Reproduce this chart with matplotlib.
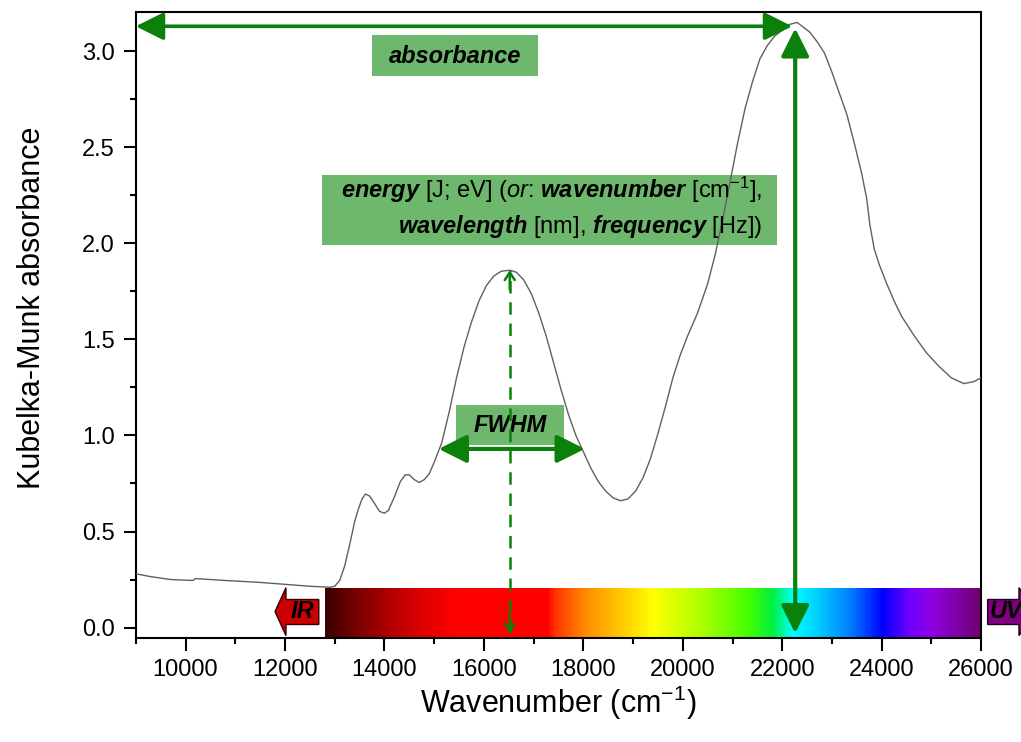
import numpy as np
import matplotlib.pyplot as plt
from matplotlib.colors import LinearSegmentedColormap
from matplotlib.patches import Rectangle, Polygon
from matplotlib.ticker import MultipleLocator

plt.rcParams['font.family'] = 'Liberation Sans'
plt.rcParams['mathtext.fontset'] = 'custom'
plt.rcParams['mathtext.rm'] = 'Liberation Sans'
plt.rcParams['mathtext.it'] = 'Liberation Sans:italic'
plt.rcParams['mathtext.bf'] = 'Liberation Sans:bold'
plt.rcParams['mathtext.bfit'] = 'Liberation Sans:italic:bold'

# Kubelka-Munk spectrum
wavenumber = [9000, 9300, 9700, 10150, 10200, 10800, 11500, 12000, 12500, 12900,
              13000, 13100, 13200, 13300, 13400, 13480, 13550, 13620, 13700, 13780,
              13900, 14000, 14080, 14200, 14320, 14420, 14500, 14600, 14700, 14800,
              14900, 15000, 15150, 15300, 15450, 15600, 15750, 15900, 16050, 16200,
              16350, 16520, 16650, 16800, 16950, 17100, 17250, 17400, 17550, 17700,
              17850, 18000, 18150, 18300, 18450, 18600, 18750, 18900, 19050, 19200,
              19350, 19500, 19650, 19800, 19950, 20100, 20300, 20500, 20650, 20800,
              20950, 21100, 21250, 21400, 21550, 21700, 21850, 22000, 22150, 22300,
              22400, 22550, 22700, 22850, 23000, 23150, 23300, 23450, 23600, 23700,
              23760, 23850, 23950, 24100, 24250, 24400, 24650, 24900, 25150, 25400,
              25650, 25850, 26000]
km_absorbance = [0.28, 0.265, 0.25, 0.245, 0.255, 0.245, 0.235, 0.225, 0.215, 0.21,
                 0.215, 0.245, 0.32, 0.43, 0.55, 0.62, 0.67, 0.695, 0.685, 0.655,
                 0.605, 0.595, 0.61, 0.68, 0.76, 0.795, 0.795, 0.77, 0.755, 0.77,
                 0.80, 0.86, 0.96, 1.12, 1.30, 1.46, 1.59, 1.70, 1.78, 1.83,
                 1.855, 1.86, 1.85, 1.81, 1.74, 1.64, 1.52, 1.38, 1.24, 1.11,
                 1.00, 0.915, 0.83, 0.76, 0.71, 0.675, 0.66, 0.67, 0.71, 0.78,
                 0.88, 1.01, 1.15, 1.30, 1.42, 1.52, 1.64, 1.79, 1.94, 2.12,
                 2.32, 2.52, 2.70, 2.84, 2.96, 3.03, 3.08, 3.11, 3.14, 3.15,
                 3.13, 3.10, 3.05, 2.99, 2.89, 2.78, 2.67, 2.52, 2.36, 2.23,
                 2.10, 1.97, 1.89, 1.79, 1.70, 1.62, 1.52, 1.43, 1.36, 1.30,
                 1.27, 1.28, 1.30]

# band used for the FWHM / energy annotations
band_peak = (16520, 1.86)
band_fwhm = (15090, 18030)
max_peak = (22260, 3.13)

# visible spectrum strip
spectrum_wn = [12800, 13400, 14050, 14700, 15380, 17270, 17400, 18070, 18740, 19400,
               20340, 21350, 21810, 22220, 22700, 23360, 24030, 24570, 25030, 26000]
spectrum_col = ['#3c0000', '#780000', '#b00000', '#dc0000', '#ff0000', '#ff0000',
                '#ff3000', '#ff9000', '#ffc800', '#ffff00', '#b0ff00', '#40ff00',
                '#00f040', '#00ffff', '#00d0ff', '#0080ff', '#0000ff', '#7000ff',
                '#9000e0', '#700070']

green = '#0b800b'
box_green = '#6db86d'

fig = plt.figure(figsize=(10.21, 7.42), dpi=100)
ax = fig.add_axes([0.133, 0.140, 0.828, 0.844])

ax.plot(wavenumber, km_absorbance, color='#606060', lw=1.0, zorder=3)

# rainbow strip
lo, hi = spectrum_wn[0], spectrum_wn[-1]
stops = [((w - lo) / (hi - lo), c) for w, c in zip(spectrum_wn, spectrum_col)]
cmap = LinearSegmentedColormap.from_list('vis', stops)
ax.imshow(np.linspace(0, 1, 600)[None, :], cmap=cmap, aspect='auto',
          extent=[lo, hi, -0.055, 0.205], zorder=1, interpolation='bilinear')

# IR / UV arrows
ir = Polygon([(11800, 0.083), (12020, 0.208), (12020, 0.146), (12680, 0.146),
              (12680, 0.016), (12020, 0.016), (12020, -0.042)],
             closed=True, fc='#cc0000', ec='#300000', lw=1.0, zorder=4)
ax.add_patch(ir)
ax.text(12350, 0.081, 'IR', fontsize=17, fontweight='bold', style='italic',
        ha='center', va='center', zorder=5)
uv = Polygon([(26130, 0.016), (26130, 0.146), (26760, 0.146), (26760, 0.208),
              (27100, 0.083), (26760, -0.042), (26760, 0.016)],
             closed=True, fc='#800080', ec='#200020', lw=1.0, zorder=4, clip_on=False)
ax.add_patch(uv)
ax.text(26170, 0.081, 'UV', fontsize=17, fontweight='bold', style='italic',
        ha='left', va='center', zorder=5, clip_on=False)

# green label boxes
ax.add_patch(Rectangle((13750, 2.87), 3330, 0.213, fc=box_green, ec='none', zorder=2))
ax.text(15420, 2.975, 'absorbance', fontsize=17, fontweight='bold', style='italic',
        ha='center', va='center', zorder=6)

ax.add_patch(Rectangle((12740, 1.99), 9160, 0.364, fc=box_green, ec='none', zorder=2))
ax.text(21600, 2.276,
        r'$\mathbfit{energy}$ [J; eV] ($\mathit{or}$: $\mathbfit{wavenumber}$ [cm$^{\mathrm{-1}}$],',
        fontsize=17, ha='right', va='center', zorder=6)
ax.text(21600, 2.089,
        r'$\mathbfit{wavelength}$ [nm], $\mathbfit{frequency}$ [Hz])',
        fontsize=17, ha='right', va='center', zorder=6)

ax.add_patch(Rectangle((15440, 0.948), 2170, 0.213, fc=box_green, ec='none', zorder=2))
ax.text(16520, 1.05, 'FWHM', fontsize=17, fontweight='bold', style='italic',
        ha='center', va='center', zorder=6)

big = dict(arrowstyle='<|-|>,head_length=1.7,head_width=0.85', mutation_scale=10,
           color=green, lw=2.6, shrinkA=0, shrinkB=0)

# absorbance (horizontal) and energy (vertical) arrows
ax.annotate('', xy=(9000, max_peak[1]), xytext=(max_peak[0] - 60, max_peak[1]),
            arrowprops=big, zorder=7)
ax.annotate('', xy=(max_peak[0], max_peak[1] - 0.01), xytext=(max_peak[0], -0.03),
            arrowprops=dict(big, lw=3.0), zorder=7)

# FWHM arrow at half height of the band
half = band_peak[1] / 2
ax.annotate('', xy=(band_fwhm[0], half), xytext=(band_fwhm[1], half),
            arrowprops=dict(big, lw=3.0), zorder=7)

# dashed peak-position arrow
ax.plot([band_peak[0], band_peak[0]], [-0.03, band_peak[1]], color=green, lw=1.8,
        dashes=(5, 3.5), zorder=8)
small = dict(arrowstyle='->,head_length=0.45,head_width=0.3', mutation_scale=12,
             color=green, lw=1.8, shrinkA=0, shrinkB=0)
ax.annotate('', xy=(band_peak[0], band_peak[1]), xytext=(band_peak[0], band_peak[1] - 0.1),
            arrowprops=small, zorder=8)
ax.annotate('', xy=(band_peak[0], -0.03), xytext=(band_peak[0], 0.07),
            arrowprops=small, zorder=8)

ax.set_xlim(9000, 26000)
ax.set_ylim(-0.055, 3.205)
ax.xaxis.set_major_locator(MultipleLocator(2000))
ax.xaxis.set_minor_locator(MultipleLocator(1000))
ax.yaxis.set_major_locator(MultipleLocator(0.5))
ax.yaxis.set_minor_locator(MultipleLocator(0.25))
ax.yaxis.set_major_formatter(plt.FormatStrFormatter('%.1f'))
ax.tick_params(which='major', direction='out', length=9, width=1.5, labelsize=17, pad=6)
ax.tick_params(which='minor', direction='out', length=4.5, width=1.5)
ax.tick_params(top=False, right=False, which='both')
for s in ax.spines.values():
    s.set_linewidth(1.5)

ax.set_xlabel(r'Wavenumber (cm$^{\mathrm{-1}}$)', fontsize=22)
ax.set_ylabel('Kubelka-Munk absorbance', fontsize=22)
ax.xaxis.set_label_coords(0.5, -0.072)
ax.yaxis.set_label_coords(-0.105, 0.527)

fig.savefig('out.png', dpi=100)
